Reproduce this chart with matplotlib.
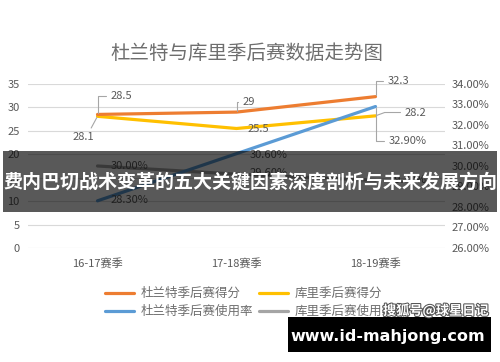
import matplotlib
matplotlib.use("Agg")
import matplotlib.pyplot as plt
import matplotlib.patheffects as pe
from matplotlib.ticker import FuncFormatter, MultipleLocator

plt.rcParams['font.family'] = ['Noto Sans CJK SC', 'DejaVu Sans']

seasons = ["16-17赛季", "17-18赛季", "18-19赛季"]
durant_pts = [28.5, 29, 32.3]
curry_pts = [28.1, 25.5, 28.2]
durant_usg = [28.30, 30.60, 32.90]
curry_usg = [30.00, 29.60, 29.30]

title = "杜兰特与库里季后赛数据走势图"
legend_labels = ["杜兰特季后赛得分", "库里季后赛得分", "杜兰特季后赛使用率", "库里季后赛使用率"]
banner_text = "费内巴切战术变革的五大关键因素深度剖析与未来发展方向"
watermark = "搜狐号@球星日记"
site = "www.id-mahjong.com"

c_orange = "#ED7D31"
c_yellow = "#FFC000"
c_blue = "#5B9BD5"
c_gray = "#A5A5A5"
txt = "#595959"
txt_light = "#6E6E6E"
lead = "#A6A6A6"

fig = plt.figure(figsize=(5, 3.62), dpi=100)
ax = fig.add_axes([0.056, 0.315, 0.834, 0.453])
ax2 = ax.twinx()

x = list(range(len(seasons)))
lw = 2.3
l1, = ax.plot(x, durant_pts, color=c_orange, lw=lw, solid_capstyle='round', zorder=4)
l2, = ax.plot(x, curry_pts, color=c_yellow, lw=lw, solid_capstyle='round', zorder=3)
l3, = ax2.plot(x, durant_usg, color=c_blue, lw=lw, solid_capstyle='round', zorder=4)
l4, = ax2.plot(x, curry_usg, color=c_gray, lw=lw, solid_capstyle='round', zorder=3)

ax.set_xlim(-0.5, 2.5)
ax.set_ylim(0, 35)
ax2.set_ylim(26, 34)
ax.yaxis.set_major_locator(MultipleLocator(5))
ax2.yaxis.set_major_locator(MultipleLocator(1))
ax2.yaxis.set_major_formatter(FuncFormatter(lambda v, p: f"{v:.2f}%"))
ax.set_xticks(x)
ax.set_xticklabels(seasons)
ax.grid(axis='y', color='#D9D9D9', lw=0.8)
ax.set_axisbelow(True)
for a in (ax, ax2):
    for s in a.spines.values():
        s.set_visible(False)
ax.tick_params(axis='both', length=0, colors=txt, labelsize=8)
ax.tick_params(axis='x', pad=7)
ax.tick_params(axis='y', pad=6)
ax2.tick_params(axis='y', length=0, colors=txt, labelsize=8, pad=5)

def lab(a, xi, yi, s, dx, dy, ha='left', conn=None, relpos=(0, 0.5)):
    kw = {}
    if conn is not None:
        kw['arrowprops'] = dict(arrowstyle='-', color=lead, lw=0.8,
                                connectionstyle=conn, shrinkA=1, shrinkB=1,
                                relpos=relpos)
    a.annotate(s, xy=(xi, yi), xytext=(dx, dy), textcoords='offset points',
               ha=ha, va='center', fontsize=8, color=txt, zorder=6, **kw)

ang = "angle,angleA=0,angleB=90,rad=0"
lab(ax, 0, durant_pts[0], f"{durant_pts[0]:g}", 9.4, 13.2, conn=ang)
lab(ax, 1, durant_pts[1], f"{durant_pts[1]:g}", 4.3, 7.6, conn=ang)
lab(ax, 2, durant_pts[2], f"{durant_pts[2]:g}", 8.6, 11.2, conn=ang)
lab(ax, 0, curry_pts[0], f"{curry_pts[0]:g}", -10, -14.9, ha='center', conn="arc3", relpos=(0.75, 1))
lab(ax, 1, curry_pts[1], f"{curry_pts[1]:g}", 8, -0.4)
lab(ax, 2, curry_pts[2], f"{curry_pts[2]:g}", 21, 2.4, conn="angle,angleA=0,angleB=20,rad=0")
lab(ax2, 0, curry_usg[0], f"{curry_usg[0]:.2f}%", 9.4, 0)
lab(ax2, 1, curry_usg[1], f"{curry_usg[1]:.2f}%", 9.4, 0.7)
lab(ax2, 2, curry_usg[2], f"{curry_usg[2]:.2f}%", 9.4, 0)
lab(ax2, 0, durant_usg[0], f"{durant_usg[0]:.2f}%", 9.4, 0.4)
lab(ax2, 1, durant_usg[1], f"{durant_usg[1]:.2f}%", 9.4, -0.9)
lab(ax2, 2, durant_usg[2], f"{durant_usg[2]:.2f}%", 9.4, -25, conn=ang)

fig.text(0.494, 1 - 53 / 362, title, ha='center', va='center', fontsize=14, color=txt_light)

fig.legend([l1, l3, l2, l4], [legend_labels[0], legend_labels[2], legend_labels[1], legend_labels[3]],
           ncol=2, loc='center', bbox_to_anchor=(0.5, 1 - 302.5 / 362), frameon=False,
           fontsize=9, labelcolor=txt_light, handlelength=2.3, handletextpad=0.55,
           columnspacing=0.45, labelspacing=0.42)

# overlay banner
fig.patches.append(plt.Rectangle((0.006, 1 - 212 / 362), 0.988, 61 / 362, transform=fig.transFigure,
                                 facecolor='black', alpha=0.65, edgecolor='none', zorder=10))
fig.text(0.5, 1 - 181.5 / 362, banner_text, ha='center', va='center', fontsize=13.7,
         fontweight='bold', color='white', zorder=11)

# site box
fig.patches.append(plt.Rectangle((288 / 500, 1 - 352 / 362), 203 / 500, 35 / 362, transform=fig.transFigure,
                                 facecolor='black', edgecolor='none', zorder=10))
fig.text(388 / 500, 1 - 336 / 362, site, ha='center', va='center', fontsize=11.5,
         fontweight='bold', color='white', family='DejaVu Sans', zorder=11)
fig.text(436 / 500, 1 - 311 / 362, watermark, ha='center', va='center', fontsize=9.5,
         fontweight='bold', color='white', zorder=12,
         path_effects=[pe.withStroke(linewidth=1.5, foreground='#555555')])

fig.savefig("out.png", dpi=100)
